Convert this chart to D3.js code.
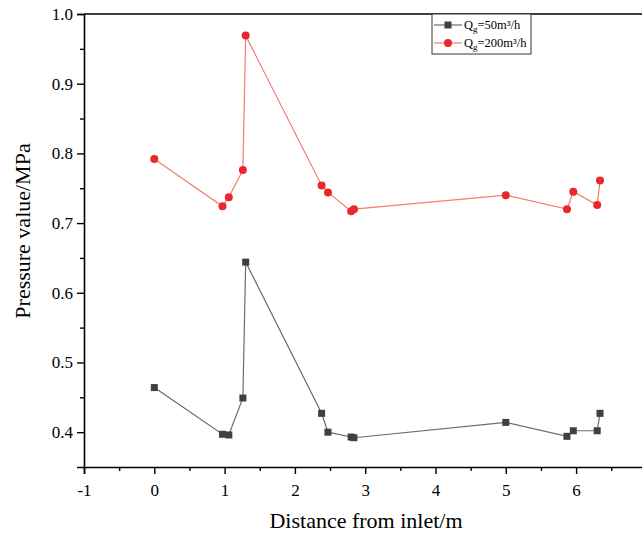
<!DOCTYPE html>
<html>
<head>
<meta charset="utf-8">
<script src="https://cdn.jsdelivr.net/npm/d3@7"></script>
<style>
body { margin: 0; background: #fff; }
svg { display: block; overflow: hidden; }
text { font-family: "Liberation Serif", "Times New Roman", serif; }
</style>
</head>
<body>
<svg id="chart" width="642" height="535"></svg>
<script>
// distance from inlet (m)
var distance = [0, 0.97, 1.06, 1.26, 1.30, 2.38, 2.47, 2.80, 2.84, 5.00, 5.87, 5.96, 6.30, 6.34];
// pressure (MPa)
var q50 = [0.464, 0.397, 0.396, 0.449, 0.644, 0.427, 0.400, 0.393, 0.392, 0.414, 0.394, 0.402, 0.402, 0.427];
var q200 = [0.792, 0.724, 0.737, 0.776, 0.969, 0.754, 0.744, 0.717, 0.720, 0.740, 0.720, 0.745, 0.726, 0.761];
var xTicks = [-1, 0, 1, 2, 3, 4, 5, 6];
var yTicks = [0.4, 0.5, 0.6, 0.7, 0.8, 0.9, 1.0];

var svg = d3.select("#chart");
var plotLeft = 84, plotTop = 14, plotBottom = 467;
var serif = "Liberation Serif, Times New Roman, serif";

var x = d3.scaleLinear().domain([-1, 7]).range([plotLeft, plotLeft + 8 * 70.3]);
var y = d3.scaleLinear().domain([0.35, 1.0]).range([plotBottom, plotTop]);

var series = [
  {name: "50", values: q50, line: "#6b6b6b", fill: "#404040", shape: "square"},
  {name: "200", values: q200, line: "#f47c70", fill: "#e8282c", shape: "circle"}
];

// lines
var line = d3.line()
    .x(function(d) { return x(d[0]); })
    .y(function(d) { return y(d[1]); });

series.forEach(function(s) {
  var pts = distance.map(function(d, i) { return [d, s.values[i]]; });
  svg.append("path")
      .datum(pts)
      .attr("fill", "none")
      .attr("stroke", s.line)
      .attr("stroke-width", 1.2)
      .attr("d", line);

  var g = svg.append("g");
  if (s.shape == "square") {
    g.selectAll("rect").data(pts).enter().append("rect")
        .attr("x", function(d) { return x(d[0]) - 3.5; })
        .attr("y", function(d) { return y(d[1]) - 3.5; })
        .attr("width", 7)
        .attr("height", 7)
        .attr("fill", s.fill);
  } else {
    g.selectAll("circle").data(pts).enter().append("circle")
        .attr("cx", function(d) { return x(d[0]); })
        .attr("cy", function(d) { return y(d[1]); })
        .attr("r", 4)
        .attr("fill", s.fill);
  }
});

// axes
svg.append("g")
    .attr("class", "axis")
    .attr("transform", "translate(0," + plotBottom + ")")
    .call(d3.axisBottom(x).tickValues(xTicks).tickFormat(function(d) { return String(d); }).tickSize(7).tickPadding(10));
svg.append("g")
    .attr("transform", "translate(0," + plotBottom + ")")
    .call(d3.axisBottom(x).tickValues(d3.range(-0.5, 7, 1)).tickFormat("").tickSize(4))
    .select(".domain").remove();

svg.append("g")
    .attr("class", "axis")
    .attr("transform", "translate(" + plotLeft + ",0)")
    .call(d3.axisLeft(y).tickValues(yTicks).tickFormat(d3.format(".1f")).tickSize(7).tickPadding(4));
svg.append("g")
    .attr("transform", "translate(" + plotLeft + ",0)")
    .call(d3.axisLeft(y).tickValues(d3.range(0.45, 1.0, 0.1)).tickFormat("").tickSize(4))
    .select(".domain").remove();

svg.selectAll(".axis").attr("font-family", serif).attr("font-size", 17);
svg.selectAll(".domain").attr("stroke", "#000").attr("stroke-width", 1.6);
svg.selectAll(".tick line").attr("stroke", "#000").attr("stroke-width", 1.4);
svg.selectAll(".tick text").attr("fill", "#000");

// top frame line
svg.append("line")
    .attr("x1", plotLeft).attr("x2", 642)
    .attr("y1", plotTop).attr("y2", plotTop)
    .attr("stroke", "#000").attr("stroke-width", 1.6);

// axis titles
svg.append("text")
    .attr("x", 366)
    .attr("y", 528)
    .attr("text-anchor", "middle")
    .attr("font-family", serif)
    .attr("font-size", 22)
    .text("Distance from inlet/m");

svg.append("text")
    .attr("transform", "translate(30," + 231 + ") rotate(-90)")
    .attr("text-anchor", "middle")
    .attr("font-family", serif)
    .attr("font-size", 22)
    .text("Pressure value/MPa");

// legend
var legend = svg.append("g");
legend.append("rect")
    .attr("x", 432).attr("y", 14)
    .attr("width", 99).attr("height", 40)
    .attr("fill", "#fff")
    .attr("stroke", "#333")
    .attr("stroke-width", 1);

var rows = legend.selectAll(".row")
    .data(series)
    .enter().append("g")
    .attr("transform", function(d, i) { return "translate(0," + (25 + i * 18) + ")"; });

rows.append("line")
    .attr("x1", 434).attr("x2", 462)
    .attr("stroke", function(d) { return d.line; })
    .attr("stroke-width", 1.2);

rows.each(function(d) {
  var r = d3.select(this);
  if (d.shape == "square") {
    r.append("rect").attr("x", 444.5).attr("y", -3.5).attr("width", 7).attr("height", 7).attr("fill", d.fill);
  } else {
    r.append("circle").attr("cx", 448).attr("cy", 0).attr("r", 4).attr("fill", d.fill);
  }
});

var lt = rows.append("text")
    .attr("x", 464)
    .attr("y", 4)
    .attr("font-family", serif)
    .attr("font-size", 12.5);
lt.append("tspan").text("Q");
lt.append("tspan").attr("font-size", 9).attr("dy", 3).text("g");
lt.append("tspan").attr("dy", -3).text(function(d) { return "=" + d.name + "m³/h"; });
</script>
</body>
</html>
